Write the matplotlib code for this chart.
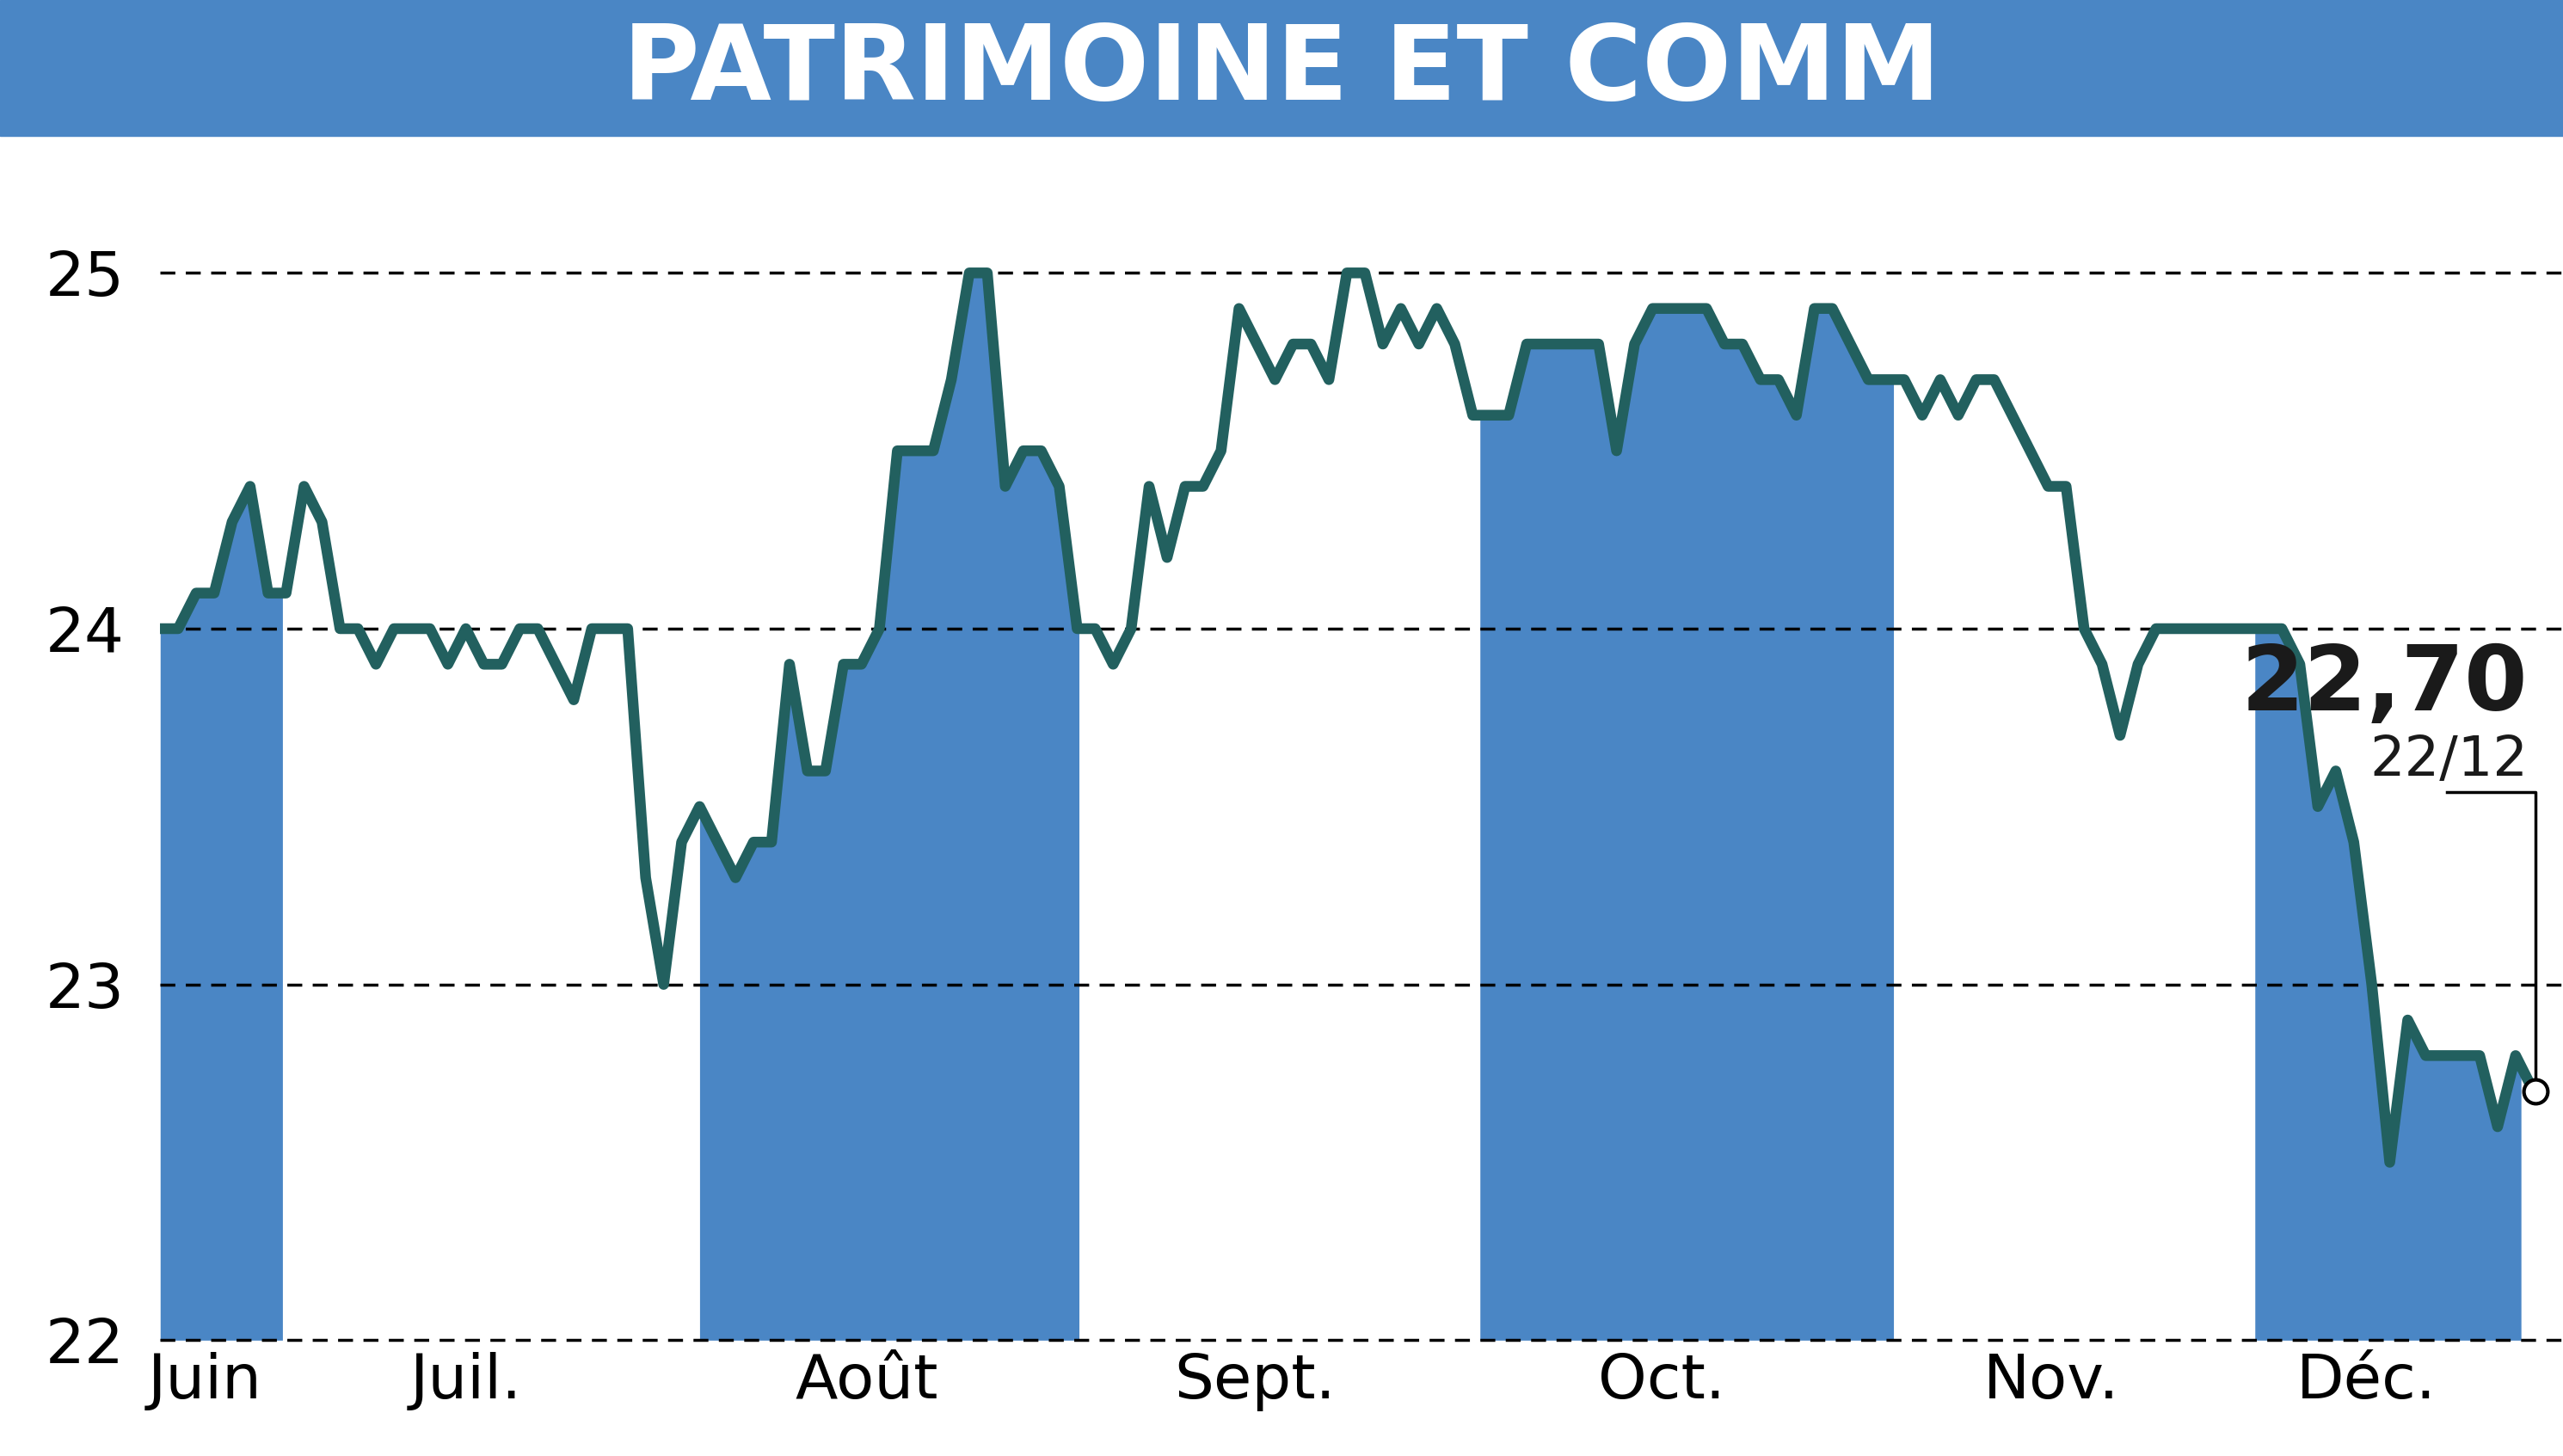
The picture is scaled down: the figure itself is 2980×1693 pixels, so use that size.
import numpy as np
import matplotlib
matplotlib.use("Agg")
import matplotlib.pyplot as plt
from matplotlib import font_manager as fm

names = {f.name for f in fm.fontManager.ttflist}
FONT = ['DejaVu Sans Condensed', 'DejaVu Sans'] if 'DejaVu Sans Condensed' in names else ['DejaVu Sans']

title = "PATRIMOINE ET COMM"
prices = [24.0,24.0,24.1,24.1,24.3,24.4,24.1,24.1,24.4,24.3,24.0,24.0,23.9,24.0,24.0,24.0,23.9,24.0,23.9,23.9,
          24.0,24.0,23.9,23.8,24.0,24.0,24.0,23.3,23.0,23.4,23.5,23.4,23.3,23.4,23.4,23.9,23.6,23.6,23.9,23.9,
          24.0,24.5,24.5,24.5,24.7,25.0,25.0,24.4,24.5,24.5,24.4,24.0,24.0,23.9,24.0,24.4,24.2,24.4,24.4,24.5,
          24.9,24.8,24.7,24.8,24.8,24.7,25.0,25.0,24.8,24.9,24.8,24.9,24.8,24.6,24.6,24.6,24.8,24.8,24.8,24.8,
          24.8,24.5,24.8,24.9,24.9,24.9,24.9,24.8,24.8,24.7,24.7,24.6,24.9,24.9,24.8,24.7,24.7,24.7,24.6,24.7,
          24.6,24.7,24.7,24.6,24.5,24.4,24.4,24.0,23.9,23.7,23.9,24.0,24.0,24.0,24.0,24.0,24.0,24.0,24.0,23.9,
          23.5,23.6,23.4,23.0,22.5,22.9,22.8,22.8,22.8,22.8,22.6,22.8,22.7]
months = ["Juin", "Juil.", "Août", "Sept.", "Oct.", "Nov.", "Déc."]
month_label_pos = [2.5, 17, 39.3, 60.9, 83.5, 105.2, 122.7]
bands = [(0, 6.8), (30.0, 51.1), (73.4, 96.4), (116.5, 131.3)]
yticks = [22, 23, 24, 25]
last_value = "22,70"
last_date = "22/12"

blue = "#4a86c5"
line_c = "#22605f"

fig = plt.figure(figsize=(29.8, 16.93), dpi=100)
fig.patches.append(plt.Rectangle((0, 1 - 82/880), 1, 82/880, transform=fig.transFigure, color=blue, zorder=0))
fig.text(0.5, 1 - 43/880, title, ha='center', va='center', color='white', fontsize=88,
         fontweight='bold', family=FONT)

ax = fig.add_axes([98/1568, 1 - 810/880, 1 - 98/1568, (810 - 100)/880])
x = np.arange(len(prices))
y = np.array(prices)
for a, b in bands:
    xs = np.linspace(a, min(b, x[-1]), 400)
    ax.fill_between(xs, 22, np.interp(xs, x, y), color=blue, lw=0, zorder=1)
ax.plot(x, y, color=line_c, lw=9, zorder=3, solid_joinstyle='round', solid_capstyle='round')
ax.set_ylim(22, 25.302)
ax.set_xlim(0, (1568 - 98) / 11.0)
for t in yticks:
    ax.axhline(t, color='black', lw=2.5, ls=(0, (5, 3.5)), zorder=2, clip_on=False)
for s in ax.spines.values():
    s.set_visible(False)
ax.set_yticks(yticks)
ax.set_yticklabels([str(t) for t in yticks], family=FONT, fontsize=52)
ax.tick_params(axis='y', length=0, pad=30)
ax.set_xticks(month_label_pos)
ax.set_xticklabels(months, family=FONT, fontsize=52)
ax.tick_params(axis='x', length=0, pad=10)

lx = x[-1]
ax.plot([lx - 4.8, lx + 0.1, lx + 0.1], [23.54, 23.54, y[-1]], color='black', lw=2.5, zorder=4)
ax.plot(lx + 0.1, y[-1], 'o', ms=20, mfc='white', mec='black', mew=3, zorder=5)
ax.text(lx - 0.3, 23.84, last_value, ha='right', va='center', fontsize=76, fontweight='bold',
        family=FONT, color='#1a1a1a', zorder=6)
ax.text(lx - 0.3, 23.63, last_date, ha='right', va='center', fontsize=46, family=FONT, color='#1a1a1a', zorder=6)

fig.savefig("out.png", dpi=100, facecolor='white')
